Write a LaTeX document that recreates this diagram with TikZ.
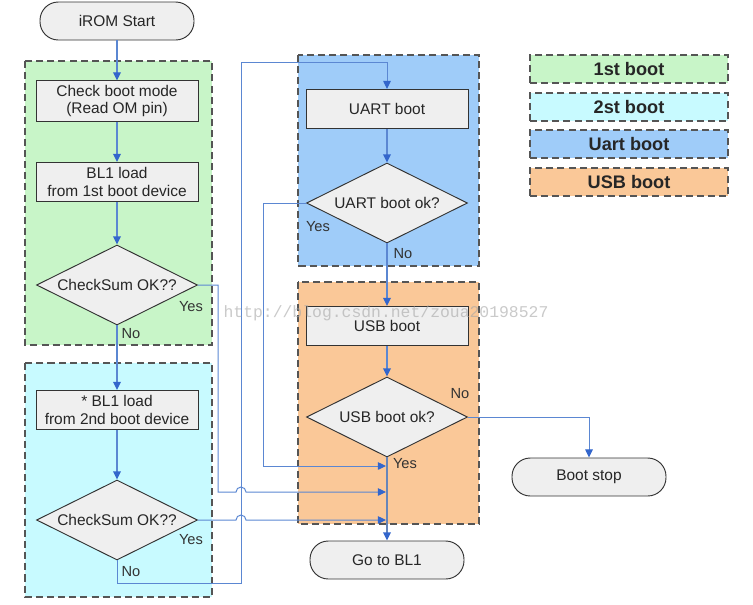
\documentclass[tikz,border=0pt]{standalone}
\usepackage{fontspec}
\setmainfont{Liberation Sans}
\newfontfamily\markfont{Liberation Mono}
\usetikzlibrary{shapes.geometric,arrows.meta}

\definecolor{greenbg}{HTML}{C8F5C8}
\definecolor{cyanbg}{HTML}{C8FAFF}
\definecolor{uartbg}{HTML}{9FCCF9}
\definecolor{usbbg}{HTML}{FAC898}
\definecolor{boxbg}{HTML}{EFEFEF}
\definecolor{edge}{HTML}{555555}
\definecolor{linkblue}{HTML}{5B87D2}
\definecolor{tipblue}{HTML}{3366CC}

\tikzset{
  region/.style={draw=edge, line width=1.3pt, dash pattern=on 6pt off 3.5pt},
  stepbox/.style={draw=black!80, fill=boxbg, line width=0.8pt, minimum width=4.86cm,
    minimum height=1.17cm, align=center, text=black!85, font=\fontsize{13.2}{15.3}\selectfont},
  term/.style={stepbox, rounded corners=0.55cm, minimum width=4.62cm, minimum height=1.14cm},
  decide/.style={diamond, draw=black!80, fill=boxbg, line width=0.8pt, aspect=2, inner sep=0pt,
    minimum width=4.83cm, minimum height=2.4cm, text=black!85, font=\fontsize{13.2}{15.3}\selectfont},
  legbox/.style={region, minimum width=5.94cm, minimum height=0.84cm, text=black!85,
    font=\fontsize{15.5}{17}\selectfont\bfseries},
  flow/.style={draw=linkblue, line width=1.2pt, -{Triangle[length=7pt,width=6.5pt,color=tipblue]}},
  branch/.style={flow, line width=0.85pt},
  answer/.style={text=black!80, font=\fontsize{12.5}{14}\selectfont}
}

\begin{document}
\begin{tikzpicture}[x=0.03cm, y=-0.03cm]
    \useasboundingbox (0,0) rectangle (753,604);

    % boot regions
    \fill[greenbg] (25,61) rectangle (212,345);
    \fill[cyanbg]  (25,363) rectangle (212,597);
    \fill[uartbg]  (298,55) rectangle (479,266);
    \fill[usbbg]   (298,282) rectangle (479,524);
    \draw[region] (25,61) rectangle (212,345);
    \draw[region] (25,363) rectangle (212,597);
    \draw[region] (298,55) rectangle (479,266);
    \draw[region] (298,282) rectangle (479,524);

    % legend
    \foreach \y/\c/\t [count=\i] in {69/greenbg/1st boot, 107/cyanbg/2st boot,
        144/uartbg/Uart boot, 182/usbbg/USB boot}{%
        \node[legbox, fill=\c] (leg\i) at (629,\y) {\t};}

    % steps
    \node[term]    (start)  at (117,21)  {iROM Start};
    \node[stepbox] (mode)   at (117,101) {Check boot mode\\(Read OM pin)};
    \node[stepbox] (load1)  at (117,182) {BL1 load\\from 1st boot device};
    \node[decide]  (chk1)   at (117,285) {CheckSum OK??};
    \node[stepbox] (load2)  at (117,410) {* BL1 load\\from 2nd boot device};
    \node[decide]  (chk2)   at (117,520) {CheckSum OK??};
    \node[stepbox] (uart)   at (387,109) {UART boot};
    \node[decide]  (uartok) at (387,203) {UART boot ok?};
    \node[stepbox] (usb)    at (387,326) {USB boot};
    \node[decide]  (usbok)  at (387,417) {USB boot ok?};
    \node[term]    (bl1)    at (387,560) {Go to BL1};
    \node[term]    (stop)   at (589,477) {Boot stop};

    \coordinate (j1) at (386,466);
    \coordinate (j2) at (386,492);
    \coordinate (j3) at (386,520);

    % main flow
    \draw[flow] (start) -- (mode);
    \draw[flow] (mode) -- (load1);
    \draw[flow] (load1) -- (chk1);
    \draw[flow] (chk1) -- (load2);
    \draw[flow] (load2) -- (chk2);
    \draw[flow] (uart) -- (uartok);
    \draw[flow] (uartok) -- (usb);
    \draw[flow] (usb) -- (usbok);
    \draw[flow, draw=linkblue!70!gray] (usbok) -- (bl1);
    \draw[branch] (usbok.east) -| (stop);

    % branches
    \draw[branch] (chk2.south) -- (117,583) -- (241,583) -- (241,62) -| (uart.north);
    \draw[branch] (uartok.west) -| (263,466) -- (j1);
    \draw[branch] (chk1.east) -| (218,492) -- (236,492)
        arc[start angle=180, end angle=0, radius=0.15cm] -- (j2);
    \draw[branch] (chk2.east) -- (236,520)
        arc[start angle=180, end angle=0, radius=0.15cm] -- (j3);

    % answers
    \node[answer] (y1) at (191,307) {Yes};
    \node[answer] (n1) at (131,334) {No};
    \node[answer] (y2) at (191,540) {Yes};
    \node[answer] (n2) at (131,572) {No};
    \node[answer] (y3) at (318,227) {Yes};
    \node[answer] (n3) at (403,254) {No};
    \node[answer] (n4) at (460,394) {No};
    \node[answer] (y4) at (405,464) {Yes};

    \node[text=black!35, opacity=0.6, font=\markfont\fontsize{14}{16}\selectfont]
        (mark) at (386,313) {http://blog.csdn.net/zoua20198527};
\end{tikzpicture}
\end{document}
